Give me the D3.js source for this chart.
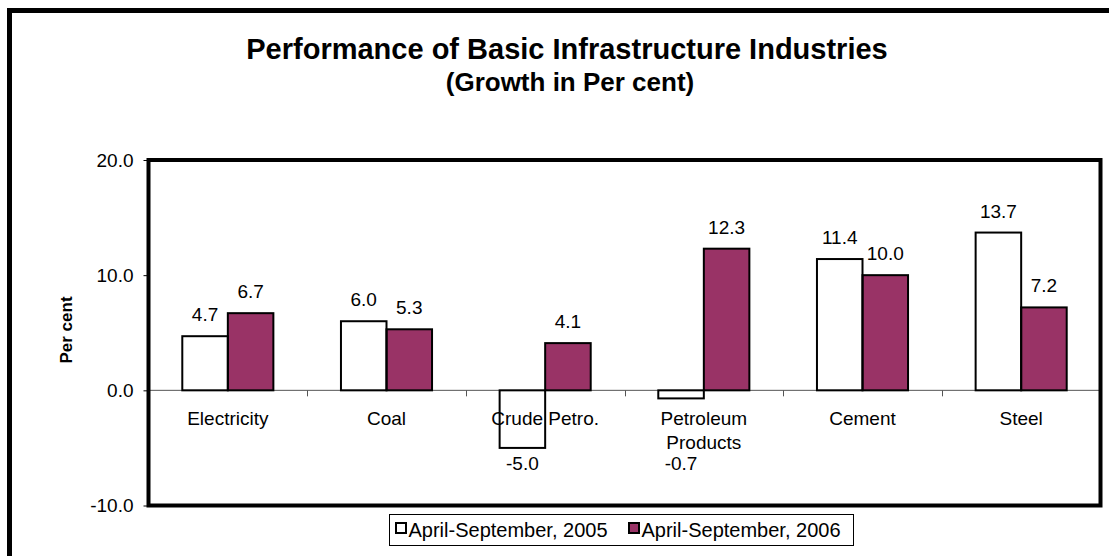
<!DOCTYPE html>
<html>
<head>
<meta charset="utf-8">
<script src="https://cdnjs.cloudflare.com/ajax/libs/d3/7.8.5/d3.min.js"></script>
<style>
  html, body { margin: 0; padding: 0; background: #ffffff; }
  svg { display: block; font-family: "Liberation Sans", Arial, sans-serif; }
</style>
</head>
<body>
<div id="chart"></div>
<script>
var categories = ["Electricity", "Coal", "Crude Petro.", "Petroleum\nProducts", "Cement", "Steel"];
var seriesNames = ["April-September, 2005", "April-September, 2006"];
var values2005 = [4.7, 6.0, -5.0, -0.7, 11.4, 13.7];
var values2006 = [6.7, 5.3, 4.1, 12.3, 10.0, 7.2];
var yTicks = [-10, 0, 10, 20];
var seriesColors = ["#ffffff", "#993366"];

var width = 1109, height = 556;
var plot = {left: 148.5, right: 1100.5, top: 160, bottom: 505.5};

// one decimal, plain hyphen for negatives
var fmt = function(v) { return d3.format(".1f")(v).replace("\u2212", "-"); };

var svg = d3.select("#chart").append("svg")
  .attr("width", width)
  .attr("height", height);

// outer frame, runs off the right and bottom edges
svg.append("rect")
  .attr("x", 9.5).attr("y", 10.5)
  .attr("width", 1200).attr("height", 600)
  .attr("fill", "none")
  .attr("stroke", "#000")
  .attr("stroke-width", 5);

svg.append("text")
  .attr("x", 567).attr("y", 59)
  .attr("text-anchor", "middle")
  .attr("font-size", 29).attr("font-weight", "bold")
  .text("Performance of Basic Infrastructure Industries");

svg.append("text")
  .attr("x", 570).attr("y", 91)
  .attr("text-anchor", "middle")
  .attr("font-size", 26).attr("font-weight", "bold")
  .text("(Growth in Per cent)");

var x = d3.scaleBand()
  .domain(d3.range(categories.length))
  .range([plot.left, plot.right])
  .paddingInner(0.426)
  .paddingOuter(0.213);

var xs = d3.scaleBand()
  .domain([0, 1])
  .range([0, x.bandwidth()]);

var y = d3.scaleLinear()
  .domain([-10, 20])
  .range([plot.bottom, plot.top]);

var rows = categories.map(function(c, i) {
  return [
    {cat: i, s: 0, v: values2005[i]},
    {cat: i, s: 1, v: values2006[i]}
  ];
});
var bars = d3.merge(rows);

// y axis ticks and labels
var yAxis = svg.append("g")
  .attr("transform", "translate(" + plot.left + ",0)")
  .call(d3.axisLeft(y).tickValues(yTicks).tickFormat(fmt)
    .tickSize(5).tickPadding(10));
yAxis.select(".domain").remove();
yAxis.selectAll("text")
  .attr("font-size", 19)
  .attr("font-family", "Liberation Sans, Arial, sans-serif")
  .attr("fill", "#000");
yAxis.selectAll("line").attr("stroke", "#000");

svg.append("text")
  .attr("transform", "translate(72,330) rotate(-90)")
  .attr("text-anchor", "middle")
  .attr("font-size", 17).attr("font-weight", "bold")
  .text("Per cent");

// bar fills
svg.selectAll("rect.bar").data(bars)
  .enter().append("rect")
    .attr("class", "bar")
    .attr("x", function(d) { return x(d.cat) + xs(d.s); })
    .attr("y", function(d) { return y(Math.max(0, d.v)); })
    .attr("width", xs.bandwidth())
    .attr("height", function(d) { return Math.abs(y(d.v) - y(0)); })
    .attr("fill", function(d) { return seriesColors[d.s]; });

// zero line and category ticks
svg.append("line")
  .attr("x1", plot.left).attr("x2", plot.right)
  .attr("y1", y(0)).attr("y2", y(0))
  .attr("stroke", "#555").attr("stroke-width", 1);

var gap = (x.step() - x.bandwidth()) / 2;
svg.selectAll("line.xtick").data(d3.range(1, categories.length))
  .enter().append("line")
    .attr("class", "xtick")
    .attr("x1", function(i) { return Math.round(x(i) - gap) + 0.5; })
    .attr("x2", function(i) { return Math.round(x(i) - gap) + 0.5; })
    .attr("y1", y(0)).attr("y2", y(0) + 6)
    .attr("stroke", "#555");

// category labels sit under the bar outlines
svg.selectAll("text.cat").data(categories)
  .enter().append("text")
    .attr("class", "cat")
    .attr("x", function(c, i) { return x(i) + x.bandwidth() / 2; })
    .attr("y", y(0) + 35)
    .attr("text-anchor", "middle")
    .attr("font-size", 19)
    .each(function(c) {
      var t = d3.select(this);
      c.split("\n").forEach(function(line, k) {
        t.append("tspan")
          .attr("x", t.attr("x"))
          .attr("dy", k === 0 ? 0 : 24)
          .text(line);
      });
    });

// bar outlines
svg.selectAll("rect.outline").data(bars)
  .enter().append("rect")
    .attr("class", "outline")
    .attr("x", function(d) { return x(d.cat) + xs(d.s); })
    .attr("y", function(d) { return y(Math.max(0, d.v)); })
    .attr("width", xs.bandwidth())
    .attr("height", function(d) { return Math.abs(y(d.v) - y(0)); })
    .attr("fill", "none")
    .attr("stroke", "#000")
    .attr("stroke-width", 2);

// value labels
svg.selectAll("text.val").data(bars)
  .enter().append("text")
    .attr("class", "val")
    .attr("x", function(d) { return x(d.cat) + xs(d.s) + xs.bandwidth() / 2; })
    .attr("y", function(d) { return d.v >= 0 ? y(d.v) - 15 : y(0) + 80; })
    .attr("text-anchor", "middle")
    .attr("font-size", 19)
    .text(function(d) { return fmt(d.v); });

// plot frame
svg.append("rect")
  .attr("x", plot.left).attr("y", plot.top)
  .attr("width", plot.right - plot.left)
  .attr("height", plot.bottom - plot.top)
  .attr("fill", "none")
  .attr("stroke", "#000")
  .attr("stroke-width", 4);

// legend
var legend = svg.append("g").attr("transform", "translate(389.5,514.5)");
legend.append("rect")
  .attr("width", 464).attr("height", 31)
  .attr("fill", "#fff")
  .attr("stroke", "#000").attr("stroke-width", 1);
var item = legend.selectAll("g.item").data(seriesNames)
  .enter().append("g")
    .attr("class", "item")
    .attr("transform", function(d, i) { return "translate(" + (6 + i * 233) + ",0)"; });
item.append("rect")
  .attr("x", 0.5).attr("y", 8.5)
  .attr("width", 10).attr("height", 10)
  .attr("fill", function(d, i) { return seriesColors[i]; })
  .attr("stroke", "#000").attr("stroke-width", 2);
item.append("text")
  .attr("x", 13).attr("y", 22)
  .attr("font-size", 20)
  .text(function(d) { return d; });
</script>
</body>
</html>
